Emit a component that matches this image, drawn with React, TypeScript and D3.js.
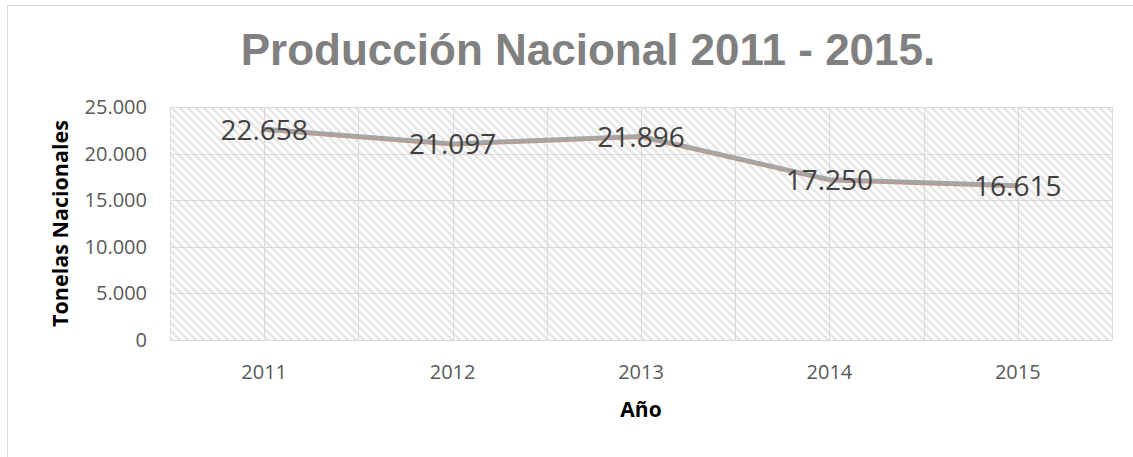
import * as d3 from 'd3';
import React, { useEffect, useRef } from 'react';

// data
const years = ['2011', '2012', '2013', '2014', '2015'];
const toneladas = [22658, 21097, 21896, 17250, 16615];
const yTicks = [0, 5000, 10000, 15000, 20000, 25000];

const fmt = (v: number) => d3.format(',')(v).replace(/,/g, '.');

export default function App() {
  const svgRef = useRef<SVGSVGElement>(null);
  const width = 1133;
  const height = 457;
  const marginLeft = 170;
  const marginRight = 21;
  const marginTop = 107;
  const marginBottom = 117;

  useEffect(() => {
    const svg = d3.select(svgRef.current);
    svg.selectAll('*').remove();

    const x = d3
      .scaleBand()
      .domain(years)
      .range([marginLeft, width - marginRight])
      .padding(0);

    const y = d3
      .scaleLinear()
      .domain([0, 25000])
      .range([height - marginBottom, marginTop]);

    // patron de rayas
    const defs = svg.append('defs');
    const pat = defs
      .append('pattern')
      .attr('id', 'hatch')
      .attr('patternUnits', 'userSpaceOnUse')
      .attr('width', 8)
      .attr('height', 8);
    pat.append('rect').attr('width', 8).attr('height', 8).attr('fill', '#ffffff');
    pat
      .append('path')
      .attr('d', 'M-2,6 L2,10 M0,0 L8,8 M6,-2 L10,2')
      .attr('stroke', '#e6e6e6')
      .attr('stroke-width', 2.6);

    // borde exterior
    svg
      .append('rect')
      .attr('x', 7.5)
      .attr('y', 5.5)
      .attr('width', 1140)
      .attr('height', 470)
      .attr('fill', '#ffffff')
      .attr('stroke', '#d9d9d9');

    // area de trazado
    svg
      .append('rect')
      .attr('x', marginLeft)
      .attr('y', marginTop)
      .attr('width', width - marginLeft - marginRight)
      .attr('height', height - marginTop - marginBottom)
      .attr('fill', 'url(#hatch)');

    // cuadricula horizontal
    svg
      .append('g')
      .selectAll('line')
      .data(yTicks)
      .enter()
      .append('line')
      .attr('x1', marginLeft)
      .attr('x2', width - marginRight)
      .attr('y1', (d) => Math.round(y(d)) + 0.5)
      .attr('y2', (d) => Math.round(y(d)) + 0.5)
      .attr('stroke', '#d9d9d9')
      .attr('stroke-width', 1);

    // cuadricula vertical (centros y limites)
    const vx: number[] = [];
    years.forEach((yr) => {
      vx.push(x(yr)!);
      vx.push(x(yr)! + x.bandwidth() / 2);
    });
    vx.push(width - marginRight);
    svg
      .append('g')
      .selectAll('line')
      .data(vx)
      .enter()
      .append('line')
      .attr('x1', (d) => Math.round(d) + 0.5)
      .attr('x2', (d) => Math.round(d) + 0.5)
      .attr('y1', marginTop)
      .attr('y2', height - marginBottom)
      .attr('stroke', '#d9d9d9')
      .attr('stroke-width', 1);

    // eje Y
    svg
      .append('g')
      .selectAll('text')
      .data(yTicks)
      .enter()
      .append('text')
      .attr('x', 147)
      .attr('y', (d) => y(d) + 7)
      .attr('text-anchor', 'end')
      .style('font-family', '"Open Sans", sans-serif')
      .style('font-size', '20px')
      .attr('fill', '#595959')
      .text((d) => fmt(d));

    // eje X
    svg
      .append('g')
      .selectAll('text')
      .data(years)
      .enter()
      .append('text')
      .attr('x', (d) => x(d)! + x.bandwidth() / 2)
      .attr('y', 379)
      .attr('text-anchor', 'middle')
      .style('font-family', '"Open Sans", sans-serif')
      .style('font-size', '20px')
      .attr('fill', '#595959')
      .text((d) => d);

    // linea
    const pts = years.map((yr, i) => ({ yr, v: toneladas[i] }));
    const line = d3
      .line<{ yr: string; v: number }>()
      .x((d) => x(d.yr)! + x.bandwidth() / 2)
      .y((d) => y(d.v));
    svg
      .append('path')
      .datum(pts)
      .attr('d', line)
      .attr('fill', 'none')
      .attr('stroke', '#c49383')
      .attr('stroke-width', 4)
      .attr('transform', 'translate(0,1)');
    svg
      .append('path')
      .datum(pts)
      .attr('d', line)
      .attr('fill', 'none')
      .attr('stroke', '#a5a5a5')
      .attr('stroke-width', 4)
      .attr('stroke-linejoin', 'round');

    // etiquetas de datos
    svg
      .append('g')
      .selectAll('text')
      .data(pts)
      .enter()
      .append('text')
      .attr('x', (d) => x(d.yr)! + x.bandwidth() / 2)
      .attr('y', (d) => y(d.v) + 11)
      .attr('text-anchor', 'middle')
      .style('font-family', '"Open Sans", sans-serif')
      .style('font-size', '28px')
      .attr('fill', '#404040')
      .text((d) => fmt(d.v));

    // titulo
    svg
      .append('text')
      .attr('x', 588)
      .attr('y', 65)
      .attr('text-anchor', 'middle')
      .style('font-family', '"Liberation Sans", Arial, sans-serif')
      .style('font-weight', 'bold')
      .style('font-size', '44px')
      .attr('fill', '#808080')
      .text('Producción Nacional 2011 - 2015.');

    // titulos de ejes
    svg
      .append('text')
      .attr('x', (marginLeft + width - marginRight) / 2)
      .attr('y', 417)
      .attr('text-anchor', 'middle')
      .style('font-family', '"Open Sans", sans-serif')
      .style('font-weight', 'bold')
      .style('font-size', '21px')
      .attr('fill', '#000000')
      .text('Año');

    svg
      .append('text')
      .attr('transform', `translate(68, ${(marginTop + height - marginBottom) / 2}) rotate(-90)`)
      .attr('text-anchor', 'middle')
      .style('font-family', '"Open Sans", sans-serif')
      .style('font-weight', 'bold')
      .style('font-size', '21.5px')
      .attr('fill', '#000000')
      .text('Tonelas Nacionales');
  }, []);

  return (
    <svg
      ref={svgRef}
      width={width}
      height={height}
      style={{ position: 'absolute', left: 0, top: 0, background: '#ffffff' }}
    ></svg>
  );
}
